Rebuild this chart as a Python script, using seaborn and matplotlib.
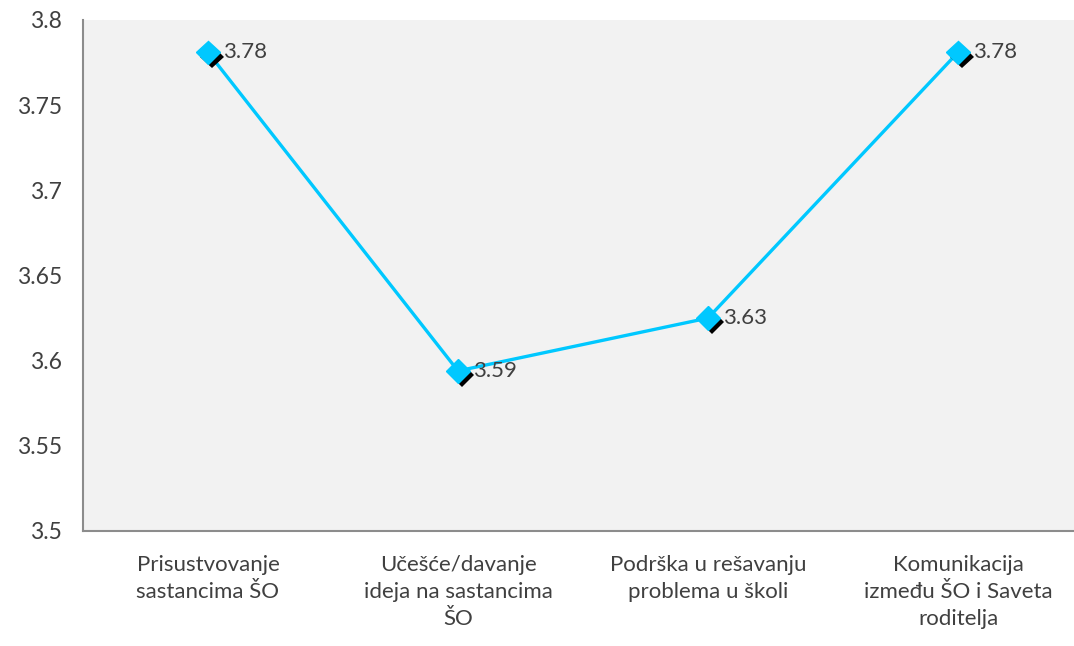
import matplotlib
matplotlib.use("Agg")
import matplotlib.pyplot as plt
import matplotlib.patheffects as pe
import seaborn as sns
import pandas as pd

# data
categories = [
    "Prisustvovanje\nsastancima ŠO",
    "Učešće/davanje\nideja na sastancima\nŠO",
    "Podrška u rešavanju\nproblema u školi",
    "Komunikacija\nizmeđu ŠO i Saveta\nroditelja",
]
values = [3.781, 3.594, 3.625, 3.781]
labels = ["3.78", "3.59", "3.63", "3.78"]
y_ticks = [3.5, 3.55, 3.6, 3.65, 3.7, 3.75, 3.8]

df = pd.DataFrame({"pos": range(len(categories)), "value": values})

sns.set_style("white")
plt.rcParams["font.family"] = ["Lato", "DejaVu Sans"]

line_color = "#00c8ff"
axis_gray = "#8c8c8c"
text_color = "#404040"

fig = plt.figure(figsize=(10.74, 6.46), dpi=100)
ax = fig.add_axes([83 / 1074, 1 - 531 / 646, 1000 / 1074, 511 / 646])
ax.set_facecolor("#f2f2f2")

sns.lineplot(data=df, x="pos", y="value", color=line_color, linewidth=2.4, ax=ax)
ax.plot(df["pos"], df["value"], linestyle="none", marker="D", markersize=12,
        markerfacecolor=line_color, markeredgecolor=line_color,
        path_effects=[pe.SimplePatchShadow(offset=(3, -3), shadow_rgbFace="black", alpha=1),
                      pe.Normal()], zorder=5)

for x, y, t in zip(df["pos"], df["value"], labels):
    ax.annotate(t, (x, y), xytext=(11, 0), textcoords="offset points",
                ha="left", va="center", fontsize=16, color=text_color)

ax.set_xlim(-0.5, len(categories) - 0.5)
ax.set_ylim(3.5, 3.8)
ax.set_yticks(y_ticks)
ax.set_yticklabels([f"{v:g}" for v in y_ticks])
ax.set_xticks(range(len(categories)))
ax.set_xticklabels(categories, linespacing=1.45)
ax.set_xticks([i + 0.5 for i in range(len(categories) - 1)], minor=True)
ax.set_xlabel("")
ax.set_ylabel("")

ax.tick_params(axis="x", which="major", length=0, pad=17, labelsize=16, labelcolor=text_color)
ax.tick_params(axis="x", which="minor", length=7, width=1.5, color=axis_gray, direction="out")
ax.tick_params(axis="y", length=7, width=1.5, color=axis_gray, direction="out",
               pad=8, labelsize=16.5, labelcolor=text_color)

for s in ["top", "right"]:
    ax.spines[s].set_visible(False)
for s in ["left", "bottom"]:
    ax.spines[s].set_color(axis_gray)
    ax.spines[s].set_linewidth(1.5)

fig.savefig("out.png", dpi=100, facecolor="white")
